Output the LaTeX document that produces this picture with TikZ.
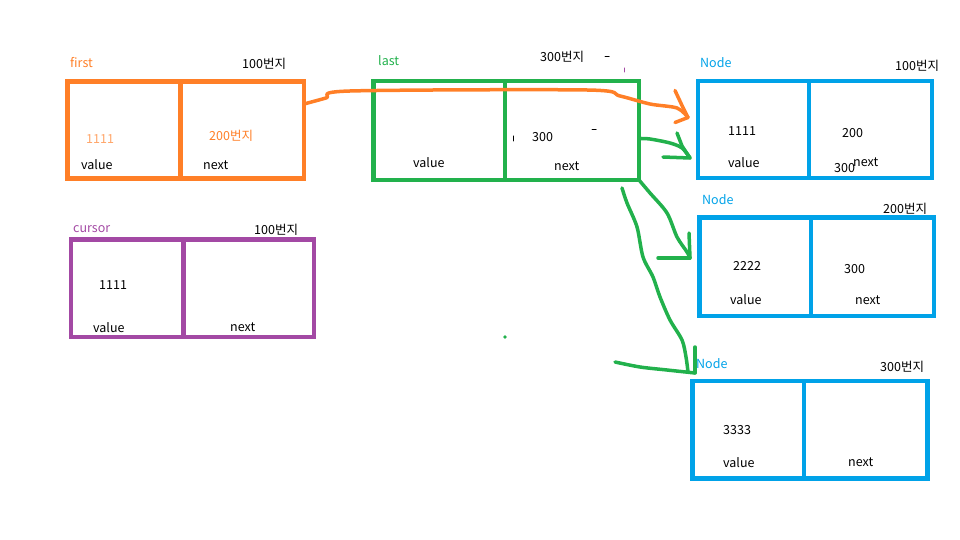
\documentclass[tikz,border=0pt]{standalone}
\usepackage{fontspec}
\setmainfont{Noto Sans CJK KR}
\usetikzlibrary{calc}
\definecolor{porange}{HTML}{FF7F27}
\definecolor{pgreen}{HTML}{22B14C}
\definecolor{pblue}{HTML}{00A2E8}
\definecolor{ppurple}{HTML}{A349A4}
\begin{document}
\begin{tikzpicture}[x=1pt,y=-1pt,
  cell/.style={draw=#1, line width=4.5pt, inner sep=0pt, outer sep=0pt},
  lbl/.style={anchor=west, inner sep=0pt, text height=9pt, text depth=0pt,
              font=\fontsize{12.5}{14}\selectfont},
  stroke/.style={draw=#1, line width=3.5pt, line cap=round, line join=round},
  dot/.style={line width=1pt, line cap=round}]
\useasboundingbox (0,0) rectangle (960,540);

% ---- first (orange) ----
\node[cell=porange, minimum width=113pt, minimum height=97pt] (first-v) at (124,130) {};
\node[cell=porange, minimum width=123.5pt, minimum height=97pt] (first-n) at (242.25,130) {};
\node[lbl, text=porange] (first-t) at (70,63) {first};
\node[lbl] (first-a) at (242,64) {100번지};
\node[lbl, text=porange!70] (first-val) at (86,139) {1111};
\node[lbl, text=porange] (first-nx) at (209,136) {200번지};
\node[lbl] (first-vl) at (81,165) {value};
\node[lbl] (first-nl) at (203,165) {next};

% ---- last (green) ----
\node[cell=pgreen, minimum width=131.7pt, minimum height=99pt] (last-v) at (439.15,130.5) {};
\node[cell=pgreen, minimum width=134pt, minimum height=99pt] (last-n) at (572,130.5) {};
\node[lbl, text=pgreen] (last-t) at (378,61) {last};
\node[lbl] (last-a) at (540,57) {300번지};
\node[lbl] (last-nx) at (532,137) {300};
\node[lbl] (last-vl) at (413,163) {value};
\node[lbl] (last-nl) at (554,166) {next};

% ---- node at 100 ----
\node[cell=pblue, minimum width=111pt, minimum height=97pt] (n1-v) at (753.5,129.5) {};
\node[cell=pblue, minimum width=123pt, minimum height=97pt] (n1-n) at (870.5,129.5) {};
\node[lbl, text=pblue] (n1-t) at (700,63) {Node};
\node[lbl] (n1-a) at (895,66) {100번지};
\node[lbl] (n1-val) at (728,131) {1111};
\node[lbl] (n1-nx) at (842,133) {200};
\node[lbl] (n1-vl) at (728,163) {value};
\node[lbl] (n1-nl) at (853,162) {next};
\node[lbl] (n1-nx2) at (834,168) {300};

% ---- node at 200 ----
\node[cell=pblue, minimum width=111.3pt, minimum height=98.5pt] (n2-v) at (755.35,266.75) {};
\node[cell=pblue, minimum width=123pt, minimum height=98.5pt] (n2-n) at (872.5,266.75) {};
\node[lbl, text=pblue] (n2-t) at (702,200) {Node};
\node[lbl] (n2-a) at (883,209) {200번지};
\node[lbl] (n2-val) at (733,266) {2222};
\node[lbl] (n2-nx) at (844,269) {300};
\node[lbl] (n2-vl) at (730,300) {value};
\node[lbl] (n2-nl) at (855,300) {next};

% ---- node at 300 ----
\node[cell=pblue, minimum width=111.5pt, minimum height=97.3pt] (n3-v) at (748.25,429.65) {};
\node[cell=pblue, minimum width=123.5pt, minimum height=97.3pt] (n3-n) at (865.75,429.65) {};
\node[lbl, text=pblue] (n3-t) at (696,364) {Node};
\node[lbl] (n3-a) at (880,367) {300번지};
\node[lbl] (n3-val) at (723,430) {3333};
\node[lbl] (n3-vl) at (723,463) {value};
\node[lbl] (n3-nl) at (848,462) {next};

% ---- cursor (purple) ----
\node[cell=ppurple, minimum width=112.5pt, minimum height=97.3pt] (cur-v) at (127.25,288.15) {};
\node[cell=ppurple, minimum width=130.5pt, minimum height=97.3pt] (cur-n) at (248.75,288.15) {};
\node[lbl, text=ppurple] (cur-t) at (73,228) {cursor};
\node[lbl] (cur-a) at (254,230) {100번지};
\node[lbl] (cur-val) at (99,285) {1111};
\node[lbl] (cur-vl) at (93,328) {value};
\node[lbl] (cur-nl) at (230,327) {next};

% ---- freehand pointers ----
\coordinate (o-start) at ($(first-n.east)+(0,-26)$);
\coordinate (o-tip) at ($(n1-v.west)+(-10,-12)$);
\draw[stroke=porange] plot[smooth, tension=0.5] coordinates
  {(o-start) (326,98) (350,91) (587,90) (620,96) (650,104) (677,108) (o-tip)};
\draw[stroke=porange] ($(o-tip)+(-13,-27)$) -- ($(o-tip)+(-6,-12)$) -- (o-tip);
\draw[stroke=porange] ($(o-tip)+(-13,5)$) -- (o-tip);

\coordinate (g1-start) at ($(last-n.east)+(0,8)$);
\coordinate (g1-tip) at ($(n1-v.west)+(-8,28.5)$);
\draw[stroke=pgreen] plot[smooth, tension=0.5] coordinates
  {(g1-start) (650,139) (670,143) (682,148) (g1-tip)};
\draw[stroke=pgreen] ($(g1-tip)+(-13,-25)$) -- ($(g1-tip)+(-8,-12)$) -- (g1-tip);
\draw[stroke=pgreen] ($(g1-tip)+(-27,-1)$) -- (g1-tip);

\coordinate (g2-start) at (last-n.south east);
\coordinate (g2-tip) at ($(n2-v.west)+(-9.7,-8.75)$);
\draw[stroke=pgreen] plot[smooth, tension=0.5] coordinates
  {(g2-start) (650,193) (667,213) (677,237) (687,252) (g2-tip)};
\draw[stroke=pgreen] ($(g2-tip)+(-1,-25)$) -- (g2-tip);
\draw[stroke=pgreen] ($(g2-tip)+(-32,0)$) -- (g2-tip);

\coordinate (g3-start) at ($(last-n.south east)+(-17,8)$);
\coordinate (g3-tip) at ($(n3-v.north west)+(2.5,-8)$);
\draw[stroke=pgreen] plot[smooth, tension=0.5] coordinates
  {(g3-start) (627,203) (637,227) (643,257) (653,277) (660,297) (670,320) (682,340) (686,357) (688,372)};
\draw[stroke=pgreen] ($(g3-tip)+(0,-26)$) -- (g3-tip);
\draw[stroke=pgreen] plot[smooth, tension=0.5] coordinates
  {(615,362) (640,367) (667,370) (g3-tip)};

% ---- small pen specks ----
\fill[pgreen] (505,337) circle (1.8);
\draw[dot] (605,57) -- (609,57);
\draw[dot, ppurple] (624,68) -- (624,72);
\draw[dot] (592,130) -- (596,130);
\draw[dot] (513,136) -- (513,141);
\end{tikzpicture}
\end{document}
